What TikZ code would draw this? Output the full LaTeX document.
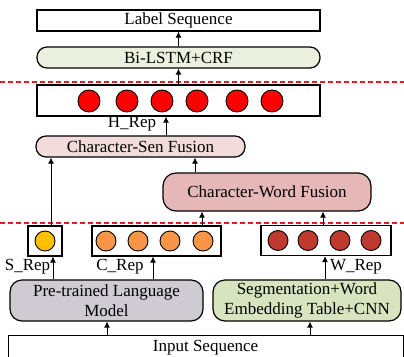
\documentclass[tikz,border=0pt]{standalone}
\usepackage{fontspec}
\setmainfont{Liberation Serif}
\usetikzlibrary{arrows.meta}
\definecolor{lstmfill}{HTML}{EBF1DE}
\definecolor{senfill}{HTML}{F2DCDB}
\definecolor{wordfill}{HTML}{E6B9B8}
\definecolor{plmfill}{HTML}{CFCBD3}
\definecolor{segfill}{HTML}{D7E4BD}
\definecolor{hred}{HTML}{FF0000}
\definecolor{corange}{HTML}{F79646}
\definecolor{syellow}{HTML}{FFC000}
\definecolor{wred}{HTML}{C0392E}
\definecolor{dashred}{HTML}{E02020}
\tikzset{
  txt/.style={font=\fontsize{17}{19.5}\selectfont, inner sep=0pt, align=center},
  plainbox/.style={draw, line width=1.2pt, fill=white, inner sep=0pt, txt},
  roundbox/.style={draw, line width=1.2pt, rounded corners=10pt, inner sep=0pt, txt},
  dot/.style={circle, draw, line width=0.9pt, inner sep=0pt},
  arr/.style={line width=1pt, -{Latex[length=6pt,width=6pt]}},
  sep/.style={dashred, line width=1.1pt, dash pattern=on 5pt off 3pt},
}
\begin{document}
\begin{tikzpicture}[x=1pt,y=-1pt]
\useasboundingbox (0,0) rectangle (404,356);
% top
\node[plainbox, minimum width=283pt, minimum height=21pt] (label) at (178.5,20.5) {Label Sequence};
\node[roundbox, fill=lstmfill, minimum width=283pt, minimum height=21pt] (lstm) at (178.5,57.5) {Bi-LSTM+CRF};
\node[plainbox, minimum width=283pt, minimum height=31pt] (hbox) at (178.5,100.5) {};
\foreach \i/\x in {1/89,2/127,3/162,4/197,5/237,6/272}
  \node[dot, fill=hred, minimum size=22pt] (h\i) at (\x,101) {};
\node[roundbox, fill=senfill, minimum width=209pt, minimum height=21pt] (sen) at (140.5,146.5) {Character-Sen Fusion};
\node[roundbox, rounded corners=13pt, fill=wordfill, minimum width=208pt, minimum height=38pt] (word) at (267,192) {Character-Word Fusion};
% rep boxes
\node[plainbox, minimum width=34pt, minimum height=30pt] (sbox) at (45,241) {};
\node[dot, fill=syellow, minimum size=20pt] (s1) at (45,241) {};
\node[plainbox, minimum width=129pt, minimum height=30pt] (cbox) at (156.5,241) {};
\foreach \i/\x in {1/106,2/138,3/170,4/203}
  \node[dot, fill=corange, minimum size=20pt] (c\i) at (\x,241) {};
\node[plainbox, minimum width=130pt, minimum height=30pt] (wbox) at (326,240.5) {};
\foreach \i/\x in {1/278,2/308,3/340,4/371}
  \node[dot, fill=wred, minimum size=20pt] (w\i) at (\x,240.5) {};
% encoders
\node[roundbox, rounded corners=12pt, fill=plmfill, minimum width=193pt, minimum height=41pt] (plm) at (106.5,300.5) {Pre-trained Language\\Model};
\node[roundbox, rounded corners=12pt, fill=segfill, minimum width=188pt, minimum height=41pt] (seg) at (307,300.5) {Segmentation+Word\\Embedding Table+CNN};
\node[plainbox, minimum width=395pt, minimum height=30pt, anchor=north west] (input) at (8,335) {};
\node[txt] (inputtxt) at (205.5,347.5) {Input Sequence};
% labels
\node[txt] (hrep) at (132,124) {H\_Rep};
\node[txt] (srep) at (27.5,267) {S\_Rep};
\node[txt] (crep) at (120,267) {C\_Rep};
\node[txt] (wrep) at (356,267) {W\_Rep};
% dashed separators
\coordinate (d1l) at (0,82); \coordinate (d1r) at (404,82);
\coordinate (d2l) at (0,223); \coordinate (d2r) at (404,223);
\draw[sep] (d1l) -- (d1r);
\draw[sep] (d2l) -- (d2r);
% arrows
\draw[arr] (lstm.north) -- (label.south);
\draw[arr] (hbox.north) -- (lstm.south);
\draw[arr] (sen.north -| 166,0) -- (hbox.south -| 166,0);
\draw[arr] (sbox.north -| 51,0) -- (sen.south -| 51,0);
\draw[arr] (word.north -| 195,0) -- (sen.south -| 195,0);
\draw[arr] (cbox.north -| 202,0) -- (word.south -| 202,0);
\draw[arr] (wbox.north -| 323,0) -- (word.south -| 323,0);
\draw[arr] (plm.north -| 53,0) -- (sbox.south -| 53,0);
\draw[arr] (plm.north -| 153,0) -- (cbox.south -| 153,0);
\draw[arr] (seg.north -| 325,0) -- (wbox.south -| 325,0);
\draw[arr] (input.north -| 107,0) -- (plm.south -| 107,0);
\draw[arr] (input.north -| 310,0) -- (seg.south -| 310,0);
\end{tikzpicture}
\end{document}
